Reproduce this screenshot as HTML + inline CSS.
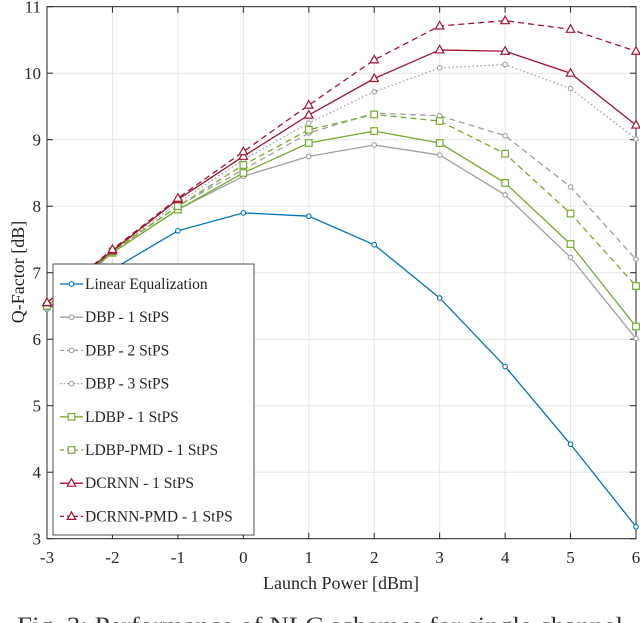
<!DOCTYPE html>
<html><head><meta charset="utf-8">
<style>
html,body{margin:0;padding:0;background:#fff;overflow:hidden;}
svg{display:block;font-family:"Liberation Serif",serif;}
</style></head>
<body>
<svg id="chart" width="640" height="623"></svg>
<script>
const xVals=[-3,-2,-1,0,1,2,3,4,5,6];
const linearEq=[6.45,7.05,7.63,7.9,7.85,7.42,6.62,5.59,4.42,3.18];
const dbp1=[6.45,7.3,7.95,8.45,8.75,8.92,8.77,8.17,7.23,6.01];
const dbp2=[6.47,7.32,8.0,8.55,9.1,9.4,9.36,9.06,8.29,7.2];
const dbp3=[6.48,7.32,8.05,8.7,9.25,9.72,10.08,10.13,9.77,9.01];
const ldbp1=[6.5,7.3,7.95,8.5,8.95,9.13,8.95,8.35,7.43,6.19];
const ldbpPmd=[6.5,7.32,8.0,8.62,9.15,9.38,9.28,8.79,7.89,6.8];
const dcrnn=[6.55,7.33,8.1,8.75,9.37,9.92,10.35,10.33,10.0,9.22];
const dcrnnPmd=[6.55,7.35,8.12,8.82,9.52,10.2,10.71,10.79,10.66,10.33];
const xTicks=[-3,-2,-1,0,1,2,3,4,5,6];
const yTicks=[3,4,5,6,7,8,9,10,11];
const seriesNames=["Linear Equalization","DBP - 1 StPS","DBP - 2 StPS","DBP - 3 StPS","LDBP - 1 StPS","LDBP-PMD - 1 StPS","DCRNN - 1 StPS","DCRNN-PMD - 1 StPS"];

const NS="http://www.w3.org/2000/svg";
const svg=document.getElementById('chart');
const L=47,R=636,T=6.7,B=538.7;
const xs=v=>L+(v-(-3))/9*(R-L);
const ys=v=>B-(v-3)/8*(B-T);
function el(tag,attrs,parent){const e=document.createElementNS(NS,tag);for(const k in attrs)e.setAttribute(k,attrs[k]);(parent||svg).appendChild(e);return e;}

const grid=el('g',{});


xTicks.forEach(t=>{el('line',{x1:xs(t),x2:xs(t),y1:T,y2:B,stroke:'#e6e6e6','stroke-width':1},grid);});
yTicks.forEach(t=>{el('line',{x1:L,x2:R,y1:ys(t),y2:ys(t),stroke:'#e6e6e6','stroke-width':1},grid);});
const frame=el('rect',{x:L,y:T,width:R-L,height:B-T,fill:'none',stroke:'#262626','stroke-width':1});



const xa=el('g',{});


xTicks.forEach(t=>{
  el('line',{x1:xs(t),x2:xs(t),y1:B,y2:B-6,stroke:'#262626'},xa);
  el('line',{x1:xs(t),x2:xs(t),y1:T,y2:T+6,stroke:'#262626'},xa);
  const tx=el('text',{x:xs(t),y:563,'text-anchor':'middle','font-size':17,fill:'#262626'},xa);tx.textContent=t;
  
  
});
const ya=el('g',{});


yTicks.forEach(t=>{
  el('line',{x1:L,x2:L+6,y1:ys(t),y2:ys(t),stroke:'#262626'},ya);
  el('line',{x1:R,x2:R-6,y1:ys(t),y2:ys(t),stroke:'#262626'},ya);
  const tx=el('text',{x:L-6,y:ys(t)+6,'text-anchor':'end','font-size':17,fill:'#262626'},ya);tx.textContent=t;
  
  
});
const xt=el('text',{x:341,y:589,'text-anchor':'middle','font-size':18,fill:'#262626'});xt.textContent='Launch Power [dBm]';


const yt=el('text',{x:24,y:272,'text-anchor':'middle','font-size':18,fill:'#262626',transform:'rotate(-90 24 272)'});yt.textContent='Q-Factor [dB]';


const cap=el('text',{x:17,y:633,'font-size':23,fill:'#333',textLength:606,lengthAdjust:'spacingAndGlyphs'});cap.textContent='Fig. 3: Performance of NLC schemes for single channel';



const styles=[
 {d:linearEq,c:'#0072BD',dash:'',m:'o'},
 {d:dbp1,c:'#a0a0a0',dash:'',m:'o'},
 {d:dbp2,c:'#a0a0a0',dash:'6,4',m:'o'},
 {d:dbp3,c:'#a0a0a0',dash:'1.5,2.5',m:'o'},
 {d:ldbp1,c:'#77AC30',dash:'',m:'s'},
 {d:ldbpPmd,c:'#77AC30',dash:'6,4',m:'s'},
 {d:dcrnn,c:'#A2142F',dash:'',m:'t'},
 {d:dcrnnPmd,c:'#A2142F',dash:'6,4',m:'t'}];
function marker(type,x,y,c,g){
  if(type==='o')return el('circle',{cx:x,cy:y,r:2.3,fill:'#fff',stroke:c,'stroke-width':1.1},g);
  if(type==='s')return el('rect',{x:x-3.3,y:y-3.3,width:6.6,height:6.6,fill:'#fff',stroke:c,'stroke-width':1.2},g);
  return el('polygon',{points:`${x},${y-4.5} ${x+4.2},${y+3} ${x-4.2},${y+3}`,fill:'#fff',stroke:c,'stroke-width':1.2},g);
}
const seriesKeys=['linear-eq','dbp-1','dbp-2','dbp-3','ldbp-1','ldbp-pmd','dcrnn','dcrnn-pmd'];
styles.forEach((s,i)=>{
  const g=el('g',{});
  
  
  const pts=s.d.map((v,j)=>xs(xVals[j])+','+ys(v)).join(' ');
  const pl=el('polyline',{points:pts,fill:'none',stroke:s.c,'stroke-width':1.3,'stroke-dasharray':s.dash},g);
  
  
  s.d.forEach((v,j)=>{const m=marker(s.m,xs(xVals[j]),ys(v),s.c,g);
    
    });
});

const lg=el('g',{});


el('rect',{x:53,y:264,width:201,height:271,fill:'#fff',stroke:'#262626','stroke-width':0.8},lg);
styles.forEach((s,i)=>{
  const y=284+i*33.2;
  const e=el('g',{},lg);
  
  
  el('line',{x1:60,x2:83,y1:y,y2:y,stroke:s.c,'stroke-width':1.3,'stroke-dasharray':s.dash?(i===3?'1.5,2':'4,3'):''},e);
  marker(s.m,71.5,y,s.c,e);
  const t=el('text',{x:85,y:y+5,'font-size':15.5,fill:'#262626'},e);t.textContent=seriesNames[i];
});
</script>
</body></html>
